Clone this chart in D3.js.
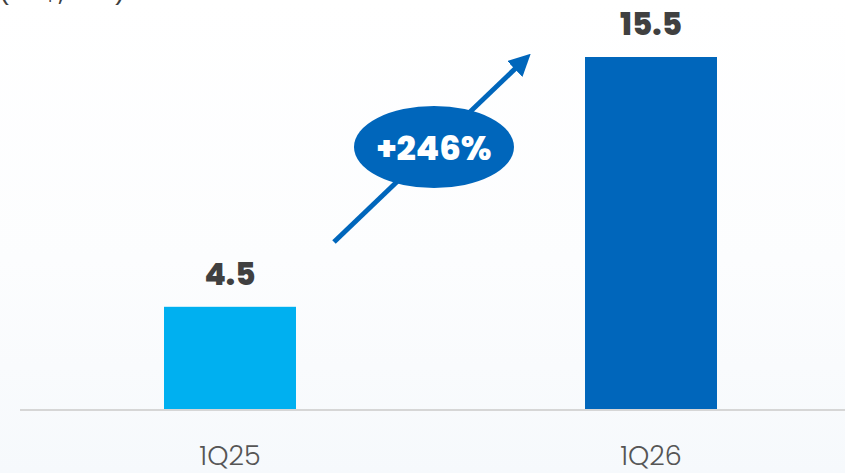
<!DOCTYPE html>
<html>
<head>
<meta charset="utf-8">
<script src="https://cdn.jsdelivr.net/npm/d3@7"></script>
<style>
  html, body { margin: 0; padding: 0; background: #ffffff; }
  svg { display: block; }
</style>
</head>
<body>
<div id="chart"></div>
<script>
// chart data
var categories = ["1Q25", "1Q26"];
var values = [4.5, 15.5];
var valueLabels = ["4.5", "15.5"];
var barColors = ["#00b0f0", "#0066bb"];
var growthLabel = "+246%";
var unitLabel = "(US$, mn)";

var width = 845, height = 473;
var margin = {left: 20, right: 0, top: 57, bottom: 64};
var baseY = height - margin.bottom;   // 409

var svg = d3.select("#chart").append("svg")
    .attr("width", width)
    .attr("height", height);

// soft background wash
var defs = svg.append("defs");
var grad = defs.append("linearGradient")
    .attr("id", "bg").attr("x1", 0).attr("y1", 0).attr("x2", 0).attr("y2", 1);
grad.append("stop").attr("offset", "0%").attr("stop-color", "#ffffff");
grad.append("stop").attr("offset", "55%").attr("stop-color", "#fcfdfe");
grad.append("stop").attr("offset", "100%").attr("stop-color", "#f6f9fc");
svg.append("rect").attr("width", width).attr("height", height).attr("fill", "url(#bg)");

// x: band scale, bars at 164-296 and 585-717
var x = d3.scaleBand()
    .domain(categories)
    .range([164, 717])
    .paddingInner(0.6865)
    .paddingOuter(0);
var barW = x.bandwidth();

var y = d3.scaleLinear()
    .domain([0, 15.5])
    .range([baseY, margin.top]);

// unit label, mostly cut off at the top (as in the source)
svg.append("text")
    .attr("x", -2)
    .attr("y", 0)
    .style("font-family", "Poppins, 'Open Sans', sans-serif")
    .style("font-size", "26px")
    .style("fill", "#404040")
    .text(unitLabel);

// bars
svg.selectAll("rect.bar")
    .data(values)
    .enter().append("rect")
    .attr("class", "bar")
    .attr("x", function(d, i){ return x(categories[i]); })
    .attr("y", function(d){ return y(d); })
    .attr("width", barW)
    .attr("height", function(d){ return baseY - y(d); })
    .attr("fill", function(d, i){ return barColors[i]; });

// axis line
svg.append("line")
    .attr("x1", margin.left).attr("x2", width)
    .attr("y1", baseY + 1).attr("y2", baseY + 1)
    .style("stroke", "#d6d6d6")
    .style("stroke-width", "2px");

// value labels
svg.selectAll("text.value")
    .data(values)
    .enter().append("text")
    .attr("class", "value")
    .attr("x", function(d, i){ return x(categories[i]) + barW / 2; })
    .attr("y", function(d){ return y(d) - 22; })
    .attr("text-anchor", "middle")
    .style("font-family", "Poppins, Inter, 'Open Sans', sans-serif")
    .style("font-weight", "800")
    .style("font-size", "31px")
    .style("fill", "#404040")
    .text(function(d, i){ return valueLabels[i]; });

// category labels
svg.selectAll("text.cat")
    .data(categories)
    .enter().append("text")
    .attr("class", "cat")
    .attr("x", function(d){ return x(d) + barW / 2; })
    .attr("y", baseY + 56)
    .attr("text-anchor", "middle")
    .style("font-family", "Poppins, Inter, 'Open Sans', sans-serif")
    .style("font-weight", "300")
    .style("font-size", "27px")
    .style("fill", "#555555")
    .text(function(d){ return d; });

// growth arrow
var arrowColor = "#0066bb";
defs.append("marker")
    .attr("id", "head")
    .attr("viewBox", "0 0 10 10")
    .attr("refX", 2).attr("refY", 5)
    .attr("markerWidth", 4.4).attr("markerHeight", 4.4)
    .attr("orient", "auto")
    .append("path")
    .attr("d", "M0,0 L10,5 L0,10 Z")
    .attr("fill", arrowColor);

svg.append("line")
    .attr("x1", 334).attr("y1", 242)
    .attr("x2", 518).attr("y2", 66)
    .style("stroke", arrowColor)
    .style("stroke-width", "5px")
    .attr("marker-end", "url(#head)");

svg.append("ellipse")
    .attr("cx", 434).attr("cy", 147)
    .attr("rx", 80).attr("ry", 41)
    .attr("fill", arrowColor);

svg.append("text")
    .attr("x", 434).attr("y", 160)
    .attr("text-anchor", "middle")
    .style("font-family", "Poppins, Inter, 'Open Sans', sans-serif")
    .style("font-weight", "800")
    .style("font-size", "34px")
    .style("fill", "#ffffff")
    .text(growthLabel);
</script>
</body>
</html>
